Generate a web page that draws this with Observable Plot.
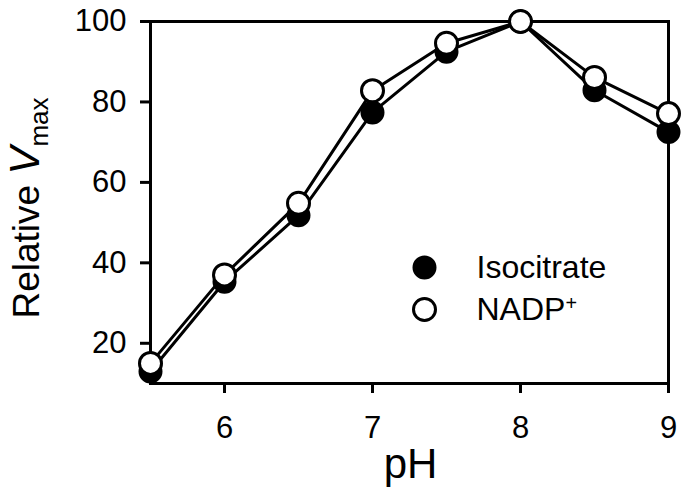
<!DOCTYPE html>
<html><head><meta charset="utf-8">
<script src="https://cdn.jsdelivr.net/npm/d3@7"></script>
<script src="https://cdn.jsdelivr.net/npm/@observablehq/plot@0.6"></script>
<style>
body{margin:0;background:#fff}
svg{font-family:"Liberation Sans", Arial, sans-serif}
</style>
</head><body><div id="chart"></div>
<script>
const pH = [5.5, 6, 6.5, 7, 7.5, 8, 8.5, 9];
const isocitrate = [13, 35.3, 51.8, 77.4, 92.5, 100, 82.9, 72.5];
const nadp = [15, 37, 54.8, 82.8, 94.6, 100, 86.1, 77.1];
const xTicks = [6, 7, 8, 9];
const yTicks = [20, 40, 60, 80, 100];
const seriesNames = ["Isocitrate", "NADP+"];

const isoRows = pH.map((p, i) => ({pH: p, v: isocitrate[i]}));
const nadpRows = pH.map((p, i) => ({pH: p, v: nadp[i]}));

const plot = Plot.plot({
  width: 689, height: 495,
  marginLeft: 150, marginRight: 21, marginTop: 21, marginBottom: 112,
  style: {fontFamily: "'Liberation Sans', Arial, sans-serif", color: "black", background: "white", overflow: "visible"},
  x: {domain: [5.5, 9]},
  y: {domain: [10, 100]},
  marks: [
    Plot.frame({stroke: "black", strokeWidth: 3}),
    Plot.axisX(xTicks, {tickSize: 10, tickPadding: 22, strokeWidth: 3, fontSize: 31, label: null, fill: "black", tickFormat: d3.format("d")}),
    Plot.axisY(yTicks, {tickSize: 10, tickPadding: 14, strokeWidth: 3, fontSize: 31, label: null, fill: "black", tickFormat: d3.format("d")}),
    Plot.lineY(isoRows, {x: "pH", y: "v", stroke: "black", strokeWidth: 3}),
    Plot.lineY(nadpRows, {x: "pH", y: "v", stroke: "black", strokeWidth: 3}),
    Plot.dot(isoRows, {x: "pH", y: "v", r: 11, fill: "black", stroke: "black", strokeWidth: 2}),
    Plot.dot(nadpRows, {x: "pH", y: "v", r: 11, fill: "white", stroke: "black", strokeWidth: 3}),
    // legend
    Plot.dot([seriesNames[0]], {frameAnchor: "top-left", dx: 274, dy: 246, r: 11, fill: "black", stroke: "black", strokeWidth: 2}),
    Plot.dot([seriesNames[1]], {frameAnchor: "top-left", dx: 274, dy: 288, r: 11, fill: "white", stroke: "black", strokeWidth: 3}),
    Plot.text([seriesNames[0]], {frameAnchor: "top-left", dx: 326, dy: 246, text: d => d, textAnchor: "start", lineAnchor: "middle", fontSize: 32, fill: "black"}),
    Plot.text([seriesNames[1]], {frameAnchor: "top-left", dx: 326, dy: 288, text: d => d, textAnchor: "start", lineAnchor: "middle", fontSize: 32, fill: "black"}),
    Plot.text(["pH"], {frameAnchor: "bottom", dx: 1, dy: 81, text: d => d, lineAnchor: "middle", fontSize: 42, fill: "black"})
  ]
});
document.getElementById("chart").appendChild(plot);

const svg = d3.select(plot);
// superscript + in NADP+
svg.selectAll("text").filter(function(){ return this.textContent === "NADP+"; }).each(function(){
  const t = d3.select(this);
  t.text(null);
  t.append("tspan").text("NADP");
  t.append("tspan").attr("dy", "-0.5em").attr("font-size", "0.62em").text("+");
});
// y-axis label
const yl = svg.append("text")
  .attr("transform", `translate(39, 208) rotate(-90)`)
  .attr("text-anchor", "middle")
  .attr("font-size", 37)
  .attr("fill", "black");
yl.append("tspan").text("Relative ");
yl.append("tspan").attr("font-style", "italic").attr("font-size", 42).text("V");
yl.append("tspan").attr("font-size", 26).attr("dy", "0.35em").text("max");
</script>
</body></html>
